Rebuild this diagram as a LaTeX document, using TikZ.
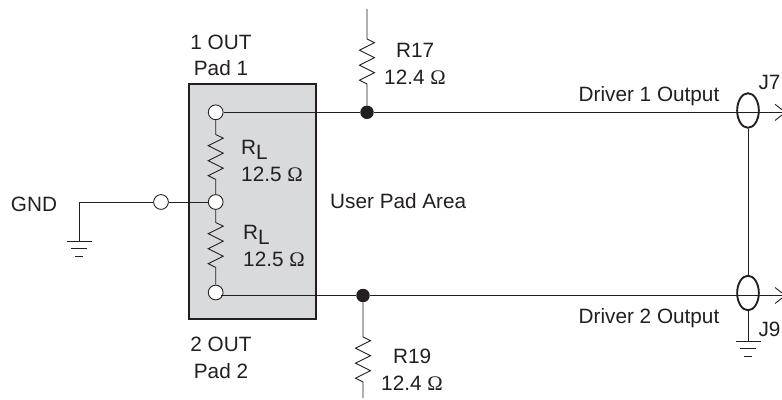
\documentclass[tikz,border=0pt]{standalone}
\usepackage{fontspec}
\setmainfont{Liberation Sans}
\newfontfamily\ohmfont{Liberation Serif}
\usetikzlibrary{shapes.geometric,calc}
\definecolor{padgray}{HTML}{D9DADC}
\definecolor{inkdark}{HTML}{231F20}
\newcommand{\ohm}{{\ohmfont Ω}}
\newcommand{\gndsym}[1]{%
	\draw [wire] ($(#1)+(-12.5,0)$) -- ($(#1)+(12.5,0)$);
	\draw [wire] ($(#1)+(-8,7.5)$) -- ($(#1)+(8,7.5)$);
	\draw [wire] ($(#1)+(-4,15)$) -- ($(#1)+(4,15)$);
}
\newcommand{\zigres}[3]{%
	\draw [wire] (#1) -- (#1 |- 0,#2) -- ++(7.5,3.7) -- ++(-15,7.5) -- ++(15,7.5) -- ++(-15,7.5) -- ++(15,7.5) -- ++(-15,7.5) -- ++(7.5,3.7) -- (#3);
}
\tikzset{
	wire/.style={inkdark, line width=0.75pt},
	padbox/.style={draw=inkdark, fill=padgray, line width=1.8pt, inner sep=0pt, minimum width=108.4pt, minimum height=200.5pt},
	term/.style={circle, draw=inkdark, fill=white, line width=0.75pt, inner sep=0pt, minimum size=12.6pt},
	junction/.style={circle, fill=inkdark, inner sep=0pt, minimum size=11.5pt},
	jack/.style={ellipse, draw=inkdark, line width=1.6pt, inner sep=0pt, minimum width=18.5pt, minimum height=29.5pt},
	lbl/.style={text=inkdark, font=\fontsize{17.7}{20}\selectfont, inner sep=0pt, anchor=base},
	lblleft/.style={lbl, anchor=base west},
}
\begin{document}
\begin{tikzpicture}[x=0.03cm, y=-0.03cm]
	\useasboundingbox (0,0) rectangle (782,400);
	% Pad area
	\node [padbox] (pad) at (252.5,201.5) {};
	\node [term] (pad1) at (215.7,112.3) {};
	\node [term] (padmid) at (215.7,202) {};
	\node [term] (pad2) at (215.7,292.5) {};
	\node [term] (gndterm) at (161,202) {};
	% Junctions and jacks
	\node [junction] (dot17) at (367,112.3) {};
	\node [junction] (dot19) at (363,295.5) {};
	\node [jack] (j7) at (748,110.5) {};
	\node [jack] (j9) at (748,293) {};
	% Free ends
	\coordinate (r17top) at (367,9);
	\coordinate (r19bot) at (363,398);
	\coordinate (j7end) at (785.4,112.3);
	\coordinate (j9end) at (785.4,295.5);
	\coordinate (gndcorner) at (79,202);
	\coordinate (gndleft) at (79,241);
	\coordinate (gndright) at (748,341);
	% Wires
	\draw [wire] (pad1.east) -- (dot17);
	\draw [wire] (dot17) -- (j7end);
	\draw [wire] (pad2.south east |- dot19) -- (dot19);
	\draw [wire] (dot19) -- (j9end);
	\draw [wire] (gndterm) -- (padmid);
	\draw [wire] (gndterm) -- (gndcorner) -- (gndleft);
	\draw [wire] (j7) -- (j9);
	\draw [wire] (j9) -- (gndright);
	% Resistors
	\zigres{pad1.south}{134.5}{padmid.north}
	\zigres{padmid.south}{222.5}{pad2.north}
	\zigres{r17top}{39}{dot17.north}
	\zigres{dot19.south}{337}{r19bot}
	% Ground symbols
	\gndsym{gndleft}
	\gndsym{gndright}
	% Connector arrows
	\draw [wire] (775,104.3) -- (j7end) -- (775,120.5);
	\draw [wire] (775,287.5) -- (j9end) -- (775,303.5);
	% Labels
	\node [lbl] (out1) at (221,49.3) {1 OUT};
	\node [lbl] (padname1) at (221,76) {Pad 1};
	\node [lbl] (out2) at (221,351) {2 OUT};
	\node [lbl] (padname2) at (221,378.3) {Pad 2};
	\node [lbl] (gndname) at (34,211.7) {GND};
	\node [lblleft] (rl1) at (241,155) {R\raisebox{-4pt}{L}};
	\node [lblleft] (rlval1) at (241,181.7) {12.5 \ohm};
	\node [lblleft] (rl2) at (243,240) {R\raisebox{-4pt}{L}};
	\node [lblleft] (rlval2) at (243,266.7) {12.5 \ohm};
	\node [lblleft] (user) at (330,209) {User Pad Area};
	\node [lblleft] (r17) at (396,58) {R17};
	\node [lblleft] (r17val) at (384,85) {12.4 \ohm};
	\node [lblleft] (r19) at (393,363) {R19};
	\node [lblleft] (r19val) at (381,390) {12.4 \ohm};
	\node [lbl] (drv1) at (649,101.5) {Driver 1 Output};
	\node [lbl] (drv2) at (649,324) {Driver 2 Output};
	\node [lbl] (j7name) at (769.5,89.3) {J7};
	\node [lbl] (j9name) at (769.5,336) {J9};
\end{tikzpicture}
\end{document}
